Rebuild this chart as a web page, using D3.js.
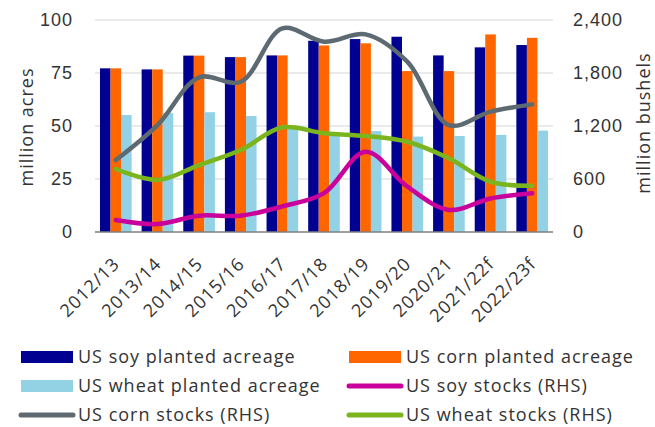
<!DOCTYPE html>
<html>
<head>
<meta charset="utf-8">
<script src="https://cdn.jsdelivr.net/npm/d3@7"></script>
<style>
  html, body { margin: 0; padding: 0; background: #fff; }
  svg { display: block; font-family: "Open Sans", "Noto Sans", sans-serif; }
  svg text { letter-spacing: 1px; }
</style>
</head>
<body>
<svg id="chart" width="655" height="427"></svg>
<script>
// Crop years
const seasons = ["2012/13", "2013/14", "2014/15", "2015/16", "2016/17", "2017/18",
                 "2018/19", "2019/20", "2020/21", "2021/22f", "2022/23f"];

// Planted acreage, million acres (left axis)
const soyAcreage   = [77.2, 76.7, 83.2, 82.5, 83.3, 90.2, 91.0, 92.1, 83.3, 87.1, 88.2];
const cornAcreage  = [77.2, 76.7, 83.2, 82.5, 83.3, 88.0, 89.0, 75.9, 75.9, 93.2, 91.6];
const wheatAcreage = [55.2, 56.2, 56.5, 54.7, 50.1, 46.0, 47.6, 45.0, 45.3, 45.8, 47.8];

// Ending stocks, million bushels (right axis)
const soyStocks   = [136, 90, 185, 185, 290, 440, 909, 515, 250, 380, 438];
const cornStocks  = [815, 1211, 1751, 1701, 2306, 2154, 2237, 1928, 1211, 1362, 1445];
const wheatStocks = [713, 589, 758, 928, 1185, 1117, 1087, 1022, 834, 569, 524];

// Tick values
const leftTicks  = [0, 25, 50, 75, 100];
const rightTicks = [0, 600, 1200, 1800, 2400];

const colors = {
  soyBar: "#000091", cornBar: "#ff6600", wheatBar: "#92d2e4",
  soyLine: "#c9009b", cornLine: "#5e6a71", wheatLine: "#7ab51d"
};

const svg = d3.select("#chart");
const plot = { left: 95, right: 553, top: 20, bottom: 232 };

const x = d3.scaleBand().domain(seasons).range([plot.left, plot.right]).paddingInner(0.24).paddingOuter(0.12);
const yL = d3.scaleLinear().domain([0, 100]).range([plot.bottom, plot.top]);
const yR = d3.scaleLinear().domain([0, 2400]).range([plot.bottom, plot.top]);

const barKeys = ["soy", "corn", "wheat"];
const xSub = d3.scaleBand().domain(barKeys).range([0, x.bandwidth()]);

const textColor = "#333";

// Gridlines
svg.append("g")
  .selectAll("line")
  .data(leftTicks.filter(d => d > 0))
  .join("line")
  .attr("x1", plot.left).attr("x2", plot.right)
  .attr("y1", d => yL(d)).attr("y2", d => yL(d))
  .attr("stroke", "#e3e3e3").attr("stroke-width", 1.5);

// Left axis labels
const leftAxis = d3.axisLeft(yL).tickValues(leftTicks).tickSize(0).tickPadding(22);
const gL = svg.append("g").attr("transform", `translate(${plot.left},0)`).call(leftAxis);
gL.select(".domain").remove();
gL.selectAll("text").attr("font-size", 18).attr("fill", textColor).attr("font-family", null);

// Right axis labels
const rightAxis = d3.axisRight(yR).tickValues(rightTicks).tickSize(0).tickPadding(20)
  .tickFormat(d3.format(","));
const gR = svg.append("g").attr("transform", `translate(${plot.right},0)`).call(rightAxis);
gR.select(".domain").remove();
gR.selectAll("text").attr("font-size", 18).attr("fill", textColor).attr("font-family", null);

// Bars
const barData = seasons.map((s, i) => ({
  season: s,
  values: [
    { key: "soy", v: soyAcreage[i], c: colors.soyBar },
    { key: "corn", v: cornAcreage[i], c: colors.cornBar },
    { key: "wheat", v: wheatAcreage[i], c: colors.wheatBar }
  ]
}));
svg.append("g")
  .selectAll("g")
  .data(barData)
  .join("g")
  .attr("transform", d => `translate(${x(d.season)},0)`)
  .selectAll("rect")
  .data(d => d.values)
  .join("rect")
  .attr("x", d => xSub(d.key))
  .attr("width", xSub.bandwidth())
  .attr("y", d => yL(d.v))
  .attr("height", d => yL(0) - yL(d.v))
  .attr("fill", d => d.c);

// Baseline
svg.append("line")
  .attr("x1", plot.left).attr("x2", plot.right)
  .attr("y1", yL(0)).attr("y2", yL(0))
  .attr("stroke", "#7f7f7f").attr("stroke-width", 1.5);

// Stock lines (right axis)
const cx = s => x(s) + x.bandwidth() / 2;
const lineGen = d3.line()
  .x((d, i) => cx(seasons[i]))
  .y(d => yR(d))
  .curve(d3.curveCatmullRom.alpha(0.5));

[[cornStocks, colors.cornLine], [wheatStocks, colors.wheatLine], [soyStocks, colors.soyLine]]
  .forEach(([vals, c]) => {
    svg.append("path")
      .datum(vals)
      .attr("d", lineGen)
      .attr("fill", "none")
      .attr("stroke", c)
      .attr("stroke-width", 4.5)
      .attr("stroke-linecap", "round")
      .attr("stroke-linejoin", "round");
  });

// Category labels
svg.append("g")
  .selectAll("text")
  .data(seasons)
  .join("text")
  .attr("transform", d => `translate(${cx(d) + 5},${plot.bottom + 33}) rotate(-45)`)
  .attr("text-anchor", "end")
  .attr("font-size", 18)
  .attr("fill", textColor)
  .text(d => d);

// Axis titles
svg.append("text")
  .attr("transform", `translate(33,${127}) rotate(-90)`)
  .attr("text-anchor", "middle")
  .attr("font-size", 18)
  .attr("fill", textColor)
  .text("million acres");

svg.append("text")
  .attr("transform", `translate(650,${123}) rotate(-90)`)
  .attr("text-anchor", "middle")
  .attr("font-size", 18)
  .attr("fill", textColor)
  .text("million bushels");

// Legend
const legendItems = [
  { label: "US soy planted acreage", type: "bar", c: colors.soyBar },
  { label: "US corn planted acreage", type: "bar", c: colors.cornBar },
  { label: "US wheat planted acreage", type: "bar", c: colors.wheatBar },
  { label: "US soy stocks (RHS)", type: "line", c: colors.soyLine },
  { label: "US corn stocks (RHS)", type: "line", c: colors.cornLine },
  { label: "US wheat stocks (RHS)", type: "line", c: colors.wheatLine }
];
const colX = [21, 349];
const rowY = [357, 386, 415];
const lg = svg.append("g")
  .selectAll("g")
  .data(legendItems)
  .join("g")
  .attr("transform", (d, i) => `translate(${colX[i % 2]},${rowY[Math.floor(i / 2)]})`);
lg.filter(d => d.type === "bar").append("rect")
  .attr("x", 0).attr("y", -6).attr("width", 52).attr("height", 12)
  .attr("fill", d => d.c);
lg.filter(d => d.type === "line").append("line")
  .attr("x1", 0).attr("x2", 52).attr("y1", 0).attr("y2", 0)
  .attr("stroke", d => d.c).attr("stroke-width", 5).attr("stroke-linecap", "round");
lg.append("text")
  .attr("x", 57).attr("dy", "0.35em")
  .attr("font-size", 18)
  .attr("fill", textColor)
  .text(d => d.label);
</script>
</body>
</html>
